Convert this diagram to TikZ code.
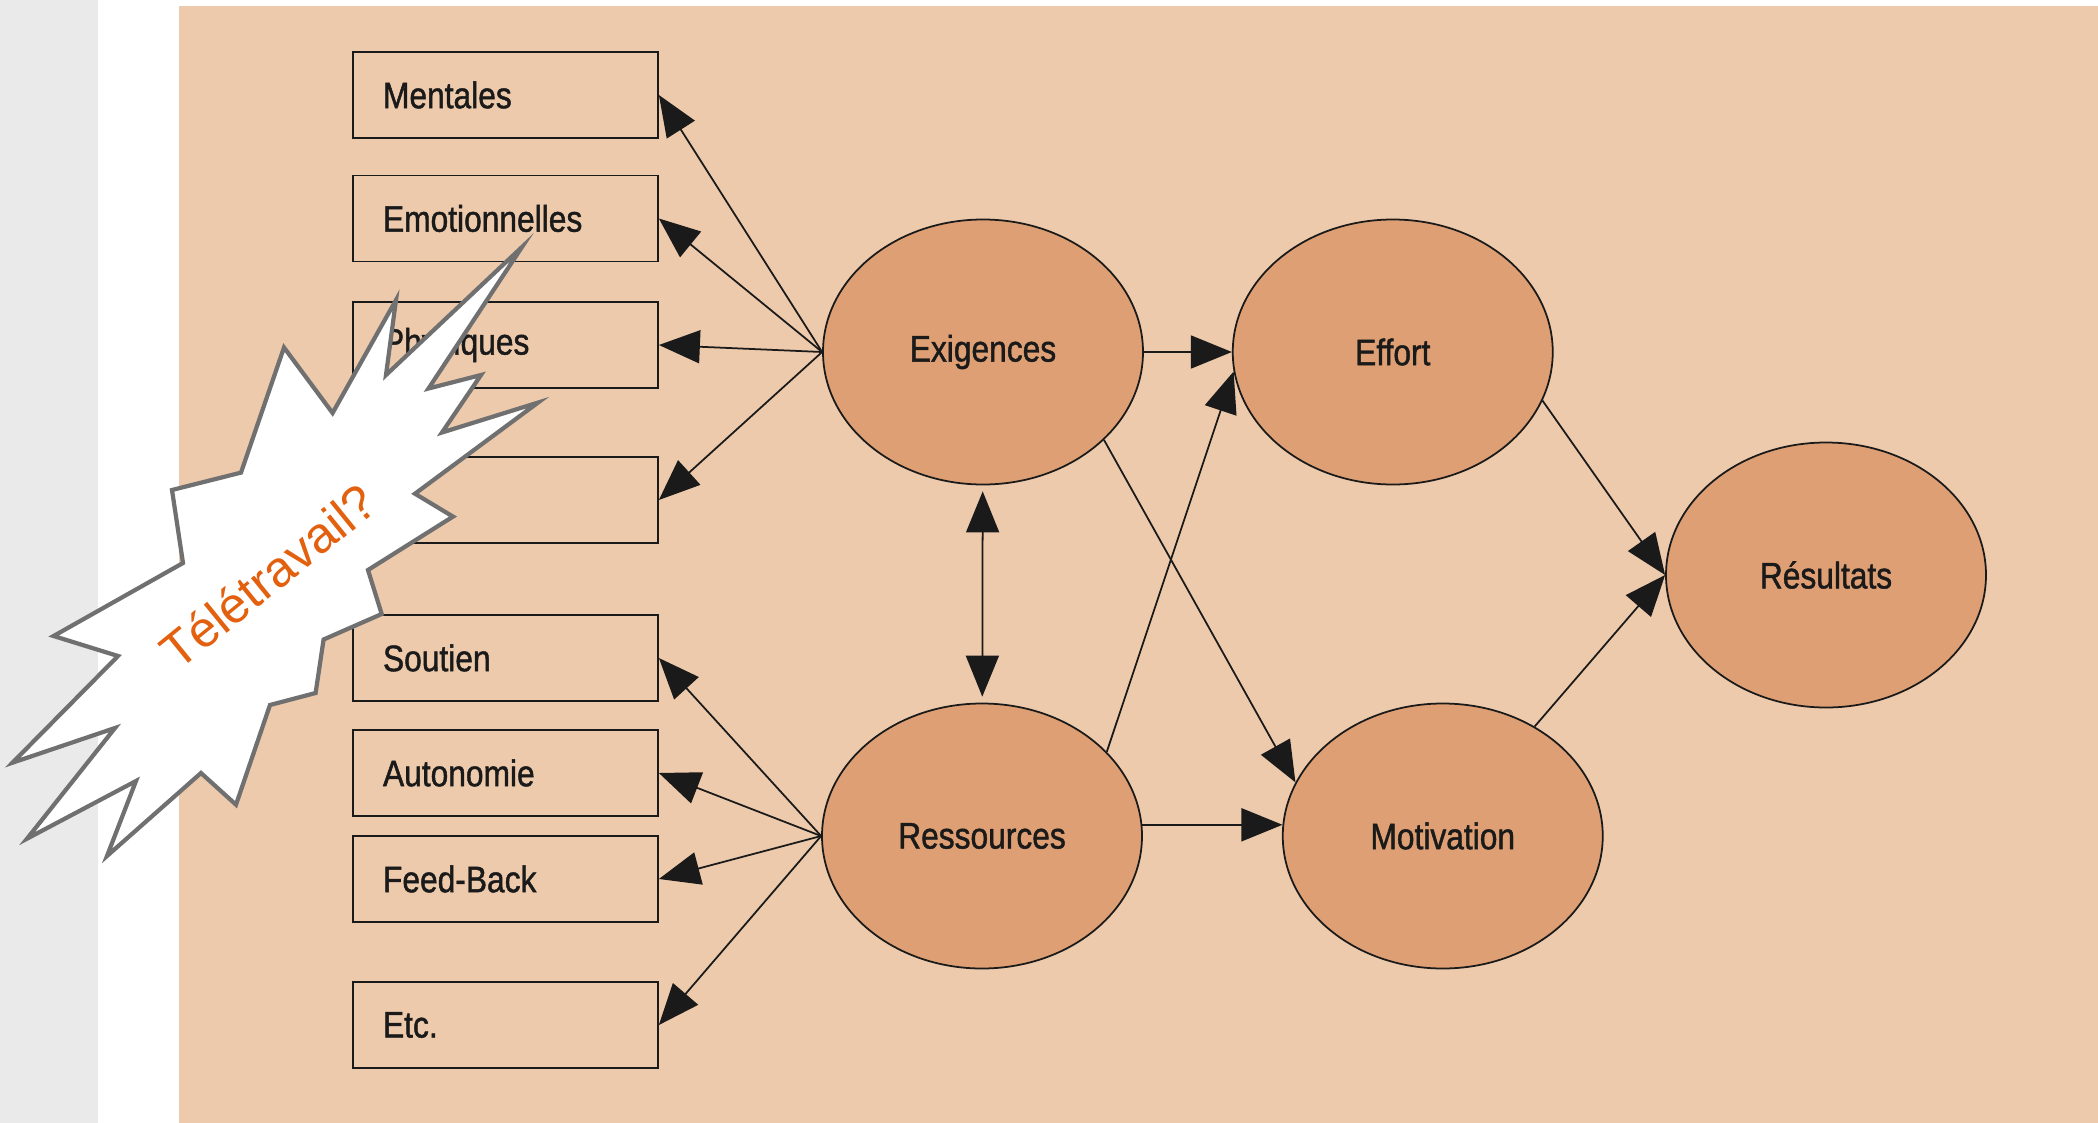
\documentclass[tikz,border=0pt]{standalone}
\usepackage{fontspec}
\setmainfont{Liberation Sans}
\newfontfamily\condfont[FakeStretch=0.86,FakeBold=1.2]{Liberation Sans}
\usetikzlibrary{shapes.geometric,arrows.meta,positioning}
\definecolor{peach}{HTML}{EDCAAC}
\definecolor{clay}{HTML}{DD9F73}
\definecolor{ink}{HTML}{1A1A1A}
\definecolor{paper}{HTML}{EAEAEA}
\definecolor{burstgray}{HTML}{707070}
\definecolor{burstorange}{HTML}{E2600E}
\tikzset{
  dim/.style={draw=ink, line width=0.5pt, minimum height=0.86cm, text width=2.45cm, inner xsep=0.3cm, align=left, text=ink, font=\condfont\fontsize{10.5}{12}\selectfont},
  factor/.style={ellipse, draw=ink, fill=clay, line width=0.5pt, minimum width=3.2cm, minimum height=2.65cm, inner sep=0pt, text=ink, font=\condfont\fontsize{10.5}{12}\selectfont},
  link/.style={->, draw=ink, line width=0.5pt},
  burst/.style={draw=burstgray, fill=white, line width=1.2pt, line join=miter}
}

\begin{document}
\begin{tikzpicture}[>={Triangle[length=4.1mm,width=3.3mm]}]
\useasboundingbox (0,0) rectangle (20.98,-11.23);
\fill[white] (0,0) rectangle (20.98,-11.23);
\fill[paper] (0,0) rectangle (0.98,-11.23);
\fill[peach] (1.79,-0.06) rectangle (20.98,-11.23);

\node (b1) at (5.055,-0.95) [dim] {Mentales};
\node (b2) at (5.055,-2.185) [dim] {Emotionnelles};
\node (b3) at (5.055,-3.45) [dim] {Physiques};
\node (b4) at (5.055,-5.00) [dim] {};
\node (b5) at (5.055,-6.58) [dim] {Soutien};
\node (b6) at (5.055,-7.73) [dim] {Autonomie};
\node (b7) at (5.055,-8.79) [dim] {Feed-Back};
\node (b8) at (5.055,-10.25) [dim] {Etc.};

\node (exi) at (9.83,-3.52) [factor] {Exigences};
\node (eff) [factor, right=0.88cm of exi] {Effort};
\node (res) at (9.82,-8.36) [factor] {Ressources};
\node (mot) [factor, right=1.39cm of res] {Motivation};
\node (resu) at (18.26,-5.75) [factor] {Résultats};

\foreach \b in {1,2,3,4} {
\draw[link] (exi.west) -- (b\b.east);
}
\foreach \b in {5,6,7,8} {
\draw[link] (res.west) -- (b\b.east);
}

\draw[link] (exi) -- (eff);
\draw[link,<->,shorten <=0.6mm,shorten >=0.6mm] (exi) -- (res);
\draw[link] (res.34) -- (eff.187);
\draw[link] (exi.-36) -- (mot.160);
\draw[link] (res.4) -- (mot.176);
\draw[link] (eff.-18) -- (resu.west);
\draw[link] (mot.50) -- (resu.west);

\draw[burst] (5.22,-2.47) -- (4.285,-3.885) -- (4.81,-3.75) -- (4.42,-4.325)
  -- (5.38,-4.026) -- (4.15,-4.937) -- (4.53,-5.166) -- (3.68,-5.70)
  -- (3.817,-6.14) -- (3.236,-6.395) -- (3.156,-6.93) -- (2.70,-7.05)
  -- (2.36,-8.047) -- (2.01,-7.73) -- (1.07,-8.56) -- (1.36,-7.81)
  -- (0.27,-8.387) -- (1.15,-7.28) -- (0.125,-7.627) -- (1.18,-6.56)
  -- (0.536,-6.36) -- (1.83,-5.63) -- (1.72,-4.90) -- (2.41,-4.726)
  -- (2.84,-3.475) -- (3.326,-4.13) -- (3.96,-3.00) -- (3.86,-3.75) -- cycle;
\node (tele) at (2.68,-5.76) [rotate=39, text=burstorange, font=\fontsize{14.3}{16}\selectfont] {Télétravail?};
\end{tikzpicture}
\end{document}
